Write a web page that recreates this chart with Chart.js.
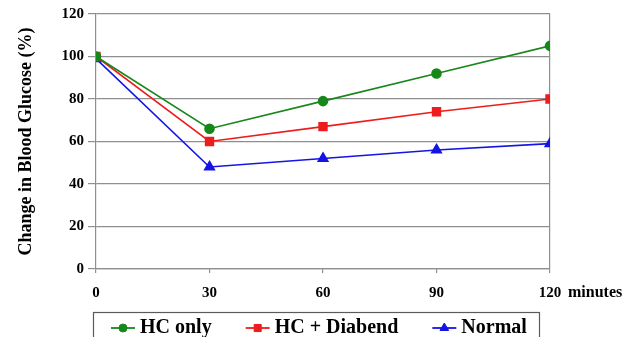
<!DOCTYPE html>
<html>
<head>
<meta charset="utf-8">
<script src="https://cdn.jsdelivr.net/npm/chart.js@4"></script>
<style>
  html, body { margin: 0; padding: 0; background: #ffffff; }
  #wrap { width: 641px; height: 337px; position: relative; }
</style>
</head>
<body>
<div id="wrap"><canvas id="c" width="641" height="337"></canvas></div>
<script>
// ---- data ----
const minutes = [0, 30, 60, 90, 120];
const hcOnly = [100, 66, 79, 92, 105];
const hcDiabend = [100, 60, 67, 74, 80];
const normal = [99, 48, 52, 56, 59];
const seriesNames = ['HC only', 'HC + Diabend', 'Normal'];
const yTicks = [0, 20, 40, 60, 80, 100, 120];
const xUnit = 'minutes';
const yTitle = 'Change in Blood Glucose (%)';

const toPts = arr => arr.map((v, i) => ({ x: minutes[i], y: v }));
const GRID = '#8f8f8f';
const SERIF = "'Liberation Serif', 'Times New Roman', serif";

const styles = [
  { color: '#17871a', point: 'circle', r: 4.5 },
  { color: '#ee1c1c', point: 'rect', r: 5.5 },
  { color: '#1414e6', point: 'triangle', r: 5.5 }
];
const values = [hcOnly, hcDiabend, normal];

const datasets = values.map((vals, i) => ({
  label: seriesNames[i],
  data: toPts(vals),
  borderColor: styles[i].color,
  backgroundColor: styles[i].color,
  pointBackgroundColor: styles[i].color,
  pointBorderColor: styles[i].color,
  pointStyle: styles[i].point,
  pointRadius: styles[i].r,
  borderWidth: 1.6,
  tension: 0
}));

const BOXW = 52;
const LEGEND_FONT = 20;
const LEGEND_SHIFT_X = 77;
const LEGEND_SHIFT_Y = 11;

const extras = {
  id: 'extras',
  afterLayout(chart) {
    const lg = chart.legend;
    if (lg) {
      lg.left += LEGEND_SHIFT_X; lg.right += LEGEND_SHIFT_X;
      lg.top += LEGEND_SHIFT_Y; lg.bottom += LEGEND_SHIFT_Y;
    }
  },
  afterDraw(chart) {
    const ctx = chart.ctx;
    const xs = chart.scales.x;
    // unit label next to last x tick
    ctx.save();
    ctx.font = "bold 16px " + SERIF;
    ctx.fillStyle = '#000';
    ctx.textAlign = 'left';
    ctx.textBaseline = 'middle';
    ctx.fillText(xUnit, xs.getPixelForValue(minutes[minutes.length - 1]) + 18, chart.chartArea.bottom + 24);
    ctx.restore();

    // legend: line + marker for each item and frame
    const lg = chart.legend;
    if (!lg || !lg.legendHitBoxes) return;
    const hb = lg.legendHitBoxes;
    ctx.save();
    hb.forEach((b, i) => {
      const st = styles[i];
      const cy = b.top + b.height / 2;
      const textX = b.left + BOXW + LEGEND_FONT / 2;
      const x1 = textX - 29, x2 = textX - 5;
      ctx.strokeStyle = st.color;
      ctx.fillStyle = st.color;
      ctx.lineWidth = 1.8;
      ctx.beginPath(); ctx.moveTo(x1, cy); ctx.lineTo(x2, cy); ctx.stroke();
      ctx.lineWidth = 1;
      Chart.helpers.drawPoint(ctx, { pointStyle: st.point, radius: st.r - 0.5, rotation: 0, borderWidth: 1 }, (x1 + x2) / 2, cy);
    });
    const first = hb[0], last = hb[hb.length - 1];
    const left = first.left + BOXW + LEGEND_FONT / 2 - 47;
    const right = last.left + last.width + 12;
    const top = first.top - 6;
    ctx.strokeStyle = '#5a5a5a';
    ctx.lineWidth = 1.2;
    ctx.strokeRect(Math.round(left) + 0.5, Math.round(top) + 0.5, Math.round(right - left), 60);
    ctx.restore();
  }
};

new Chart(document.getElementById('c'), {
  type: 'line',
  data: { datasets },
  options: {
    responsive: false,
    animation: false,
    layout: { padding: { top: 14, right: 91, left: 0, bottom: 0 } },
    plugins: {
      tooltip: { enabled: false },
      legend: {
        display: true,
        position: 'bottom',
        align: 'start',
        labels: {
          font: { family: SERIF, size: LEGEND_FONT, weight: 'bold' },
          color: '#000',
          boxWidth: BOXW,
          boxHeight: 10,
          padding: 1,
          generateLabels(chart) {
            return chart.data.datasets.map((d, i) => ({
              text: d.label,
              fillStyle: 'rgba(0,0,0,0)',
              strokeStyle: 'rgba(0,0,0,0)',
              lineWidth: 0,
              hidden: false,
              datasetIndex: i,
              fontColor: '#000'
            }));
          }
        }
      }
    },
    scales: {
      x: {
        type: 'linear',
        min: 0, max: 120,
        afterBuildTicks(s) { s.ticks = minutes.map(v => ({ value: v })); },
        afterFit(s) { s.height = 37; },
        ticks: {
          font: { family: SERIF, size: 15, weight: 'bold' },
          color: '#000',
          padding: 11,
          maxRotation: 0,
          callback: v => String(v)
        },
        grid: {
          color: c => (c.tick && c.tick.value === 120) ? GRID : 'rgba(0,0,0,0)',
          tickColor: GRID,
          tickLength: 4,
          lineWidth: 1.2
        },
        border: { color: GRID, width: 1.2 }
      },
      y: {
        min: 0, max: 120,
        afterBuildTicks(s) { s.ticks = yTicks.map(v => ({ value: v })); },
        afterFit(s) { s.width = 96; },
        ticks: {
          font: { family: SERIF, size: 15, weight: 'bold' },
          color: '#000',
          padding: 4
        },
        grid: { color: GRID, tickColor: GRID, tickLength: 8, lineWidth: 1.2 },
        border: { color: GRID, width: 1.2 },
        title: {
          display: true,
          text: yTitle,
          font: { family: SERIF, size: 18, weight: 'bold' },
          color: '#000',
          padding: { top: 16, bottom: 0 }
        }
      }
    }
  },
  plugins: [extras]
});
</script>
</body>
</html>
